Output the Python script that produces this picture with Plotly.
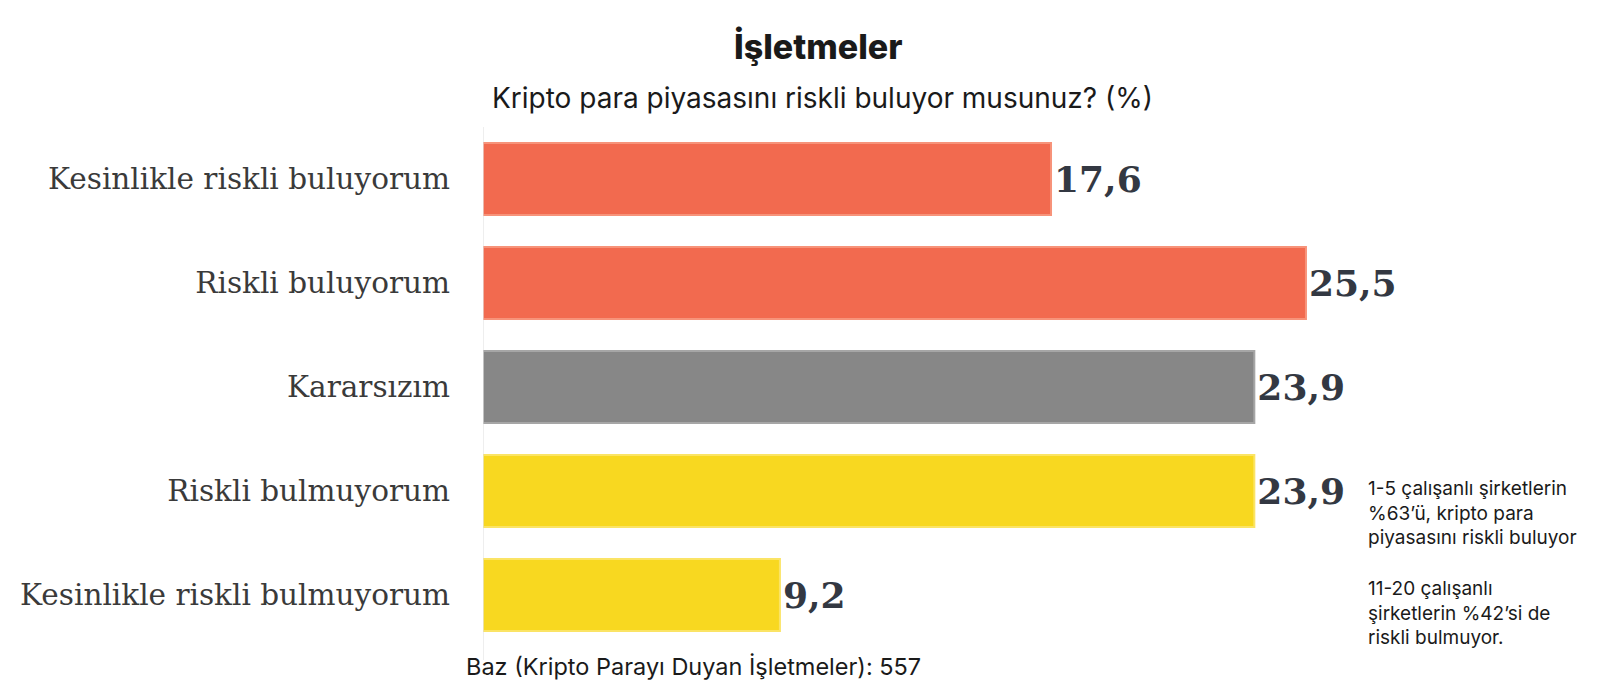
import plotly.graph_objects as go

categories = [
    "Kesinlikle riskli buluyorum",
    "Riskli buluyorum",
    "Kararsızım",
    "Riskli bulmuyorum",
    "Kesinlikle riskli bulmuyorum",
]
values = [17.6, 25.5, 23.9, 23.9, 9.2]
colors = ["#F26A4F", "#F26A4F", "#878787", "#F8D820", "#F8D820"]
edge_colors = ["#F7937A", "#F7937A", "#A6A6A6", "#FBE465", "#FBE465"]

title = "İşletmeler"
subtitle = "Kripto para piyasasını riskli buluyor musunuz? (%)"
base_note = "Baz (Kripto Parayı Duyan İşletmeler): 557"
side_note_1 = "1-5 çalışanlı şirketlerin<br>%63’ü, kripto para<br>piyasasını riskli buluyor"
side_note_2 = "11-20 çalışanlı<br>şirketlerin %42’si de<br>riskli bulmuyor."

W, H = 1600, 692
ML, MR, MT, MB = 475, 19, 119, 53
# plot area as it actually comes out on the page (measured)
AX0, AX1, AY0, AY1 = 474, 1557, 124, 632.5

fig = go.Figure()
fig.add_trace(go.Bar(
    x=values,
    y=categories,
    orientation="h",
    marker=dict(color=colors, line=dict(color=edge_colors, width=2)),
    texttemplate="<b>%{x:.1f}</b>",
    textposition="outside",
    textfont=dict(family="DejaVu Serif", size=36, color="#333842"),
    cliponaxis=False,
    hoverinfo="skip",
))

fig.update_layout(
    width=W, height=H,
    margin=dict(l=ML, r=MR, t=MT, b=MB),
    paper_bgcolor="white", plot_bgcolor="white",
    separators=",.",
    bargap=0.31,
    showlegend=False,
    xaxis=dict(range=[0, 34.27], visible=False, fixedrange=True, automargin=False),
    yaxis=dict(
        autorange="reversed",
        automargin=False,
        tickfont=dict(family="DejaVu Serif", size=29.5, color="#3a3a3a"),
        ticklabelstandoff=32,
        showgrid=False, showline=False, ticks="",
    ),
    shapes=[dict(type="line", xref="x", yref="paper", x0=0, x1=0,
                 y0=-0.025, y1=1.0, line=dict(color="#DDDDDD", width=1))],
)

annots = [
    dict(text=title, x=803, y=45, size=34, anchor="center", weight=800),
    dict(text=subtitle, x=806, y=96, size=28, anchor="center", weight=400),
    dict(text=base_note, x=680, y=652, size=23.5, anchor="center", weight=400),
    dict(text=side_note_1, x=1339, y=501, size=19, anchor="left", weight=400),
    dict(text=side_note_2, x=1339, y=599, size=19, anchor="left", weight=400),
]
for a in annots:
    px = (a["x"] - AX0) / (AX1 - AX0)
    py = 1 - (a["y"] - AY0) / (AY1 - AY0)
    fig.add_annotation(
        text=a["text"], xref="paper", yref="paper", x=px, y=py,
        xanchor=a["anchor"], yanchor="middle", align=a["anchor"],
        showarrow=False,
        font=dict(family="Inter", size=a["size"], weight=a["weight"], color="#1a1a1a"),
    )

fig.write_html("out.html")
